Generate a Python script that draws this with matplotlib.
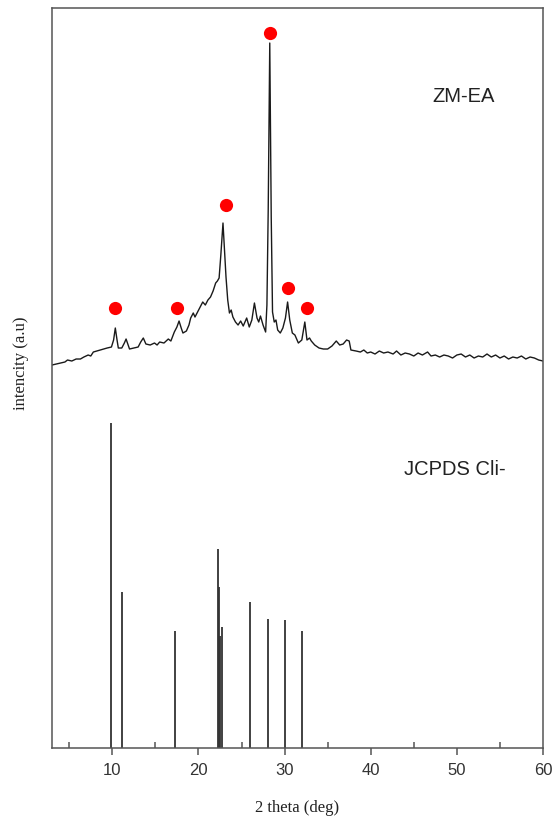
import matplotlib
matplotlib.use("Agg")
import matplotlib.pyplot as plt
from matplotlib.ticker import MultipleLocator

# measured pattern ZM-EA (2theta, intensity a.u.)
theta_ea = [3.0, 3.5, 4.0, 4.5, 4.8, 5.3, 5.8, 6.3, 6.7, 7.2, 7.5, 7.8, 8.2, 8.6, 9.0, 9.4, 9.9,
            10.15, 10.35, 10.55, 10.7, 11.1, 11.4, 11.6, 11.8, 12.0, 12.5, 13.0, 13.3, 13.6, 13.9,
            14.4, 14.9, 15.2, 15.5, 16.0, 16.5, 16.8, 17.2, 17.5, 17.75, 18.0, 18.2, 18.6, 18.9,
            19.1, 19.4, 19.6, 19.9, 20.2, 20.5, 20.8, 21.1, 21.4, 21.7, 22.0, 22.2, 22.4, 22.6,
            22.85, 23.0, 23.2, 23.4, 23.6, 23.8, 24.0, 24.3, 24.6, 24.9, 25.2, 25.6, 25.9, 26.2,
            26.5, 26.8, 27.0, 27.2, 27.5, 27.8, 27.95, 28.1, 28.28, 28.45, 28.6, 28.8, 29.0, 29.2,
            29.5, 29.8, 30.1, 30.35, 30.6, 30.9, 31.2, 31.6, 32.0, 32.35, 32.6, 32.9, 33.1, 33.5,
            34.0, 34.5, 35.0, 35.5, 36.0, 36.4, 36.8, 37.2, 37.5, 37.7, 38.3, 38.8, 39.2, 39.6,
            40.0, 40.5, 41.0, 41.5, 42.0, 42.6, 43.0, 43.5, 44.0, 44.5, 45.0, 45.5, 46.0, 46.6,
            47.0, 47.5, 48.0, 48.5, 49.0, 49.5, 50.0, 50.5, 51.0, 51.5, 52.0, 52.5, 53.0, 53.5,
            54.0, 54.5, 55.0, 55.5, 56.0, 56.5, 57.0, 57.5, 58.0, 58.5, 59.0, 59.5, 60.0]
inten_ea = [383, 384, 385, 386, 388, 387, 389, 389, 391, 393, 392, 396, 397, 398, 399, 400, 401,
            408, 420, 408, 400, 400, 405, 409, 404, 399, 400, 401, 406, 410, 404,
            403, 405, 403, 406, 405, 409, 407, 416, 421, 427, 420, 415, 417, 423,
            430, 435, 431, 436, 441, 446, 443, 448, 451, 457, 465, 467, 470, 493,
            525, 501, 471, 448, 435, 438, 431, 426, 423, 427, 422, 430, 421, 428,
            445, 430, 426, 432, 423, 416, 443, 538, 705, 531, 436, 426, 428, 418,
            415, 420, 430, 446, 428, 415, 413, 405, 408, 426, 408, 410, 407, 403,
            400, 399, 399, 402, 407, 403, 404, 408, 407, 398, 397, 396, 398, 395,
            396, 394, 397, 395, 396, 394, 397, 393, 395, 394, 392, 395, 393, 396,
            392, 393, 391, 393, 392, 390, 393, 394, 391, 393, 390, 392, 391, 394,
            391, 393, 390, 392, 389, 391, 390, 392, 389, 391, 390, 388, 387]

# marked clinoptilolite reflections
theta_mark = [10.35, 17.5, 23.2, 28.27, 30.35, 32.65]
inten_mark = [440, 440, 543, 715, 460, 440]

# JCPDS clinoptilolite reference sticks
theta_ref = [9.88, 11.16, 17.28, 22.25, 22.4, 22.55, 22.7, 25.95, 28.03, 30.0, 31.97]
inten_ref = [325, 156, 117, 199, 161, 112, 121, 146, 129, 128, 117]

fig = plt.figure(figsize=(5.52, 8.19), dpi=100)
ax = fig.add_axes([0.0942, 0.0867, 0.8895, 0.9035])

ax.plot(theta_ea, inten_ea, color="#1a1a1a", lw=1.0)
ax.plot(theta_mark, inten_mark, "o", color="red", ms=9.5, mec="none")
ax.vlines(theta_ref, 0, inten_ref, color="#333333", lw=1.3)

ax.set_xlim(3, 60)
ax.set_ylim(0, 740)

ax.text(0.839, 0.88, "ZM-EA", transform=ax.transAxes, ha="center", va="center",
        fontsize=14.5, family="Liberation Sans", color="#222222")
ax.text(0.821, 0.377, "JCPDS Cli-", transform=ax.transAxes, ha="center", va="center",
        fontsize=14.5, family="Liberation Sans", color="#222222")

for s in ax.spines.values():
    s.set_color("#555555")
    s.set_linewidth(1.1)

ax.xaxis.set_major_locator(MultipleLocator(10))
ax.xaxis.set_minor_locator(MultipleLocator(5))
ax.tick_params(axis="x", which="major", direction="out", length=5, width=1.1,
               color="#555555", labelsize=12, pad=6)
ax.tick_params(axis="x", which="minor", direction="in", length=4, width=1.1, color="#555555")
for lab in ax.get_xticklabels():
    lab.set_family("Liberation Sans")
    lab.set_color("#333333")
ax.set_yticks([])

ax.set_xlabel("2 theta (deg)", family="Liberation Serif", fontsize=12, labelpad=16,
              color="#222222")
ax.set_ylabel("intencity (a.u)", family="Liberation Serif", fontsize=12,
              color="#222222")
ax.yaxis.set_label_coords(-0.046, 0.52)

fig.savefig("out.png", dpi=100)
